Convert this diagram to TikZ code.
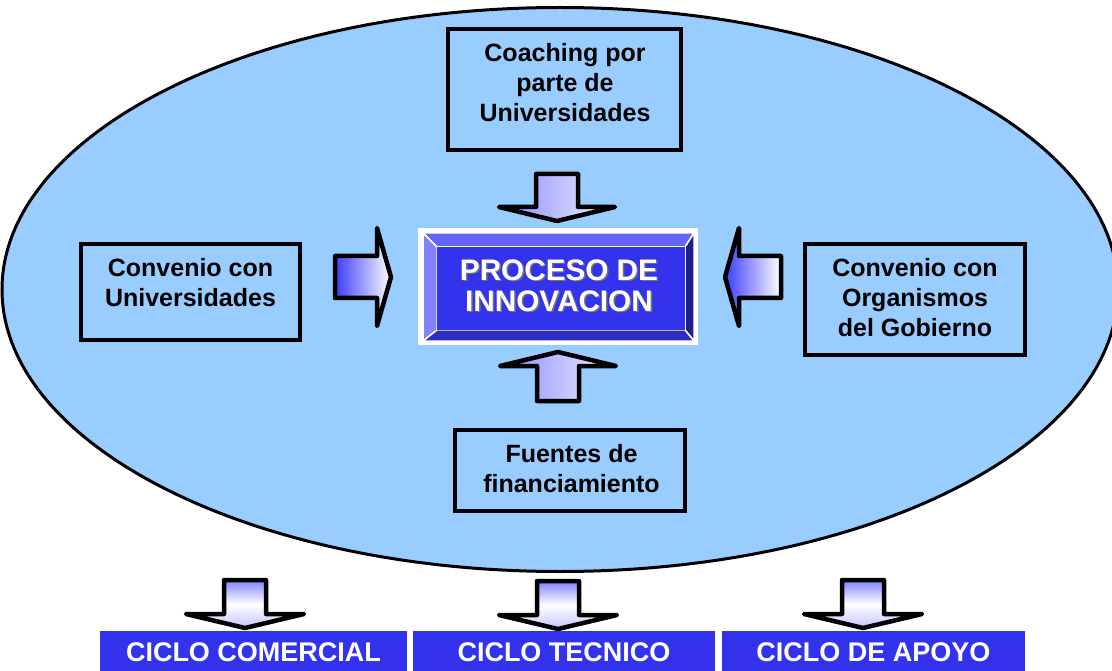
\documentclass[tikz,border=0pt]{standalone}
\usepackage{fontspec}
\setmainfont{Liberation Sans}
\usetikzlibrary{shapes.geometric}

\definecolor{ovalblue}{RGB}{153,204,255}
\definecolor{procblue}{RGB}{51,51,238}
\definecolor{bevtop}{RGB}{100,100,250}
\definecolor{bevleft}{RGB}{130,130,255}
\definecolor{bevright}{RGB}{30,30,140}
\definecolor{bevbottom}{RGB}{45,45,190}
\definecolor{arrowblue}{RGB}{60,60,255}

% block arrow: tip, turn, half head width, length, shading
\newcommand{\fatarrow}[5]{%
  \begin{scope}[shift={#1},rotate=#2]
    \draw[line width=4.5pt,line join=round,#5]
      (-21,-#4) -- (21,-#4) -- (21,-16) -- (#3,-16) -- (0,-2)
      -- (-#3,-16) -- (-21,-16) -- cycle;
  \end{scope}}

\begin{document}
\begin{tikzpicture}[x=1pt,y=-1pt]
    \tikzset{
        textbox/.style={draw=black,line width=4pt,fill=ovalblue,inner sep=0pt},
        boxtext/.style={align=center,font=\fontsize{25}{30}\selectfont\bfseries,inner sep=0pt},
        proctext/.style={align=center,font=\fontsize{29.7}{31}\selectfont\bfseries,inner sep=0pt},
        ciclobox/.style={fill=procblue,text=white,minimum height=42pt,inner sep=0pt,
            font=\fontsize{27}{32}\selectfont\bfseries},
        bevel/.style={draw=white,line width=1.5pt},
        sideshade/.style={left color=arrowblue,right color=white},
        midshade/.style={left color=arrowblue!60!white,right color=arrowblue!8!white},
        downshade/.style={top color=arrowblue!65!white,bottom color=arrowblue!30!white,middle color=white}
    }
    \useasboundingbox (0,0) rectangle (1112,671);

    \node[ellipse,draw=black,line width=3pt,fill=ovalblue,inner sep=0pt,
        minimum width=1116pt,minimum height=564pt] (oval) at (560,289.5) {};

    % the four sources
    \node[textbox,minimum width=233pt,minimum height=121pt] (coach) at (564.5,89.5) {};
    \node[boxtext] (coachtext) at (565,82.5) {Coaching por\\parte de\\Universidades};
    \node[textbox,minimum width=219pt,minimum height=96pt] (univ) at (190.5,292) {};
    \node[boxtext] (univtext) at (190.5,282.5) {Convenio con\\Universidades};
    \node[textbox,minimum width=220pt,minimum height=111pt] (gob) at (915,299.5) {};
    \node[boxtext] (gobtext) at (915,297.5) {Convenio con\\Organismos\\del Gobierno};
    \node[textbox,minimum width=230pt,minimum height=81pt] (fuentes) at (570,470.5) {};
    \node[boxtext] (fuentestext) at (571.5,469) {Fuentes de\\financiamiento};

    % bevelled centre box
    \node[fill=white,minimum width=280pt,minimum height=117pt,inner sep=0pt] (frame) at (558,286.5) {};
    \filldraw[bevel,fill=bevtop] (423,233) -- (694,233) -- (685,247) -- (437,247) -- cycle;
    \filldraw[bevel,fill=bevleft] (423,233) -- (437,247) -- (437,330) -- (423,341) -- cycle;
    \filldraw[bevel,fill=bevright] (694,233) -- (694,341) -- (685,330) -- (685,247) -- cycle;
    \filldraw[bevel,fill=bevbottom] (423,341) -- (694,341) -- (685,330) -- (437,330) -- cycle;
    \node[fill=procblue,minimum width=248pt,minimum height=83pt,inner sep=0pt] (proc) at (561,288.5) {};
    \node[proctext,text=black!55] (procshadow) at (560.5,287) {PROCESO DE\\INNOVACION};
    \node[proctext,text=white] (proclabel) at (559,285.5) {PROCESO DE\\INNOVACION};

    % arrows into the centre
    \fatarrow{(557,223)}{0}{58}{49}{midshade}
    \fatarrow{(393,277)}{90}{49}{58}{sideshade}
    \fatarrow{(723,277)}{-90}{49}{58}{sideshade}
    \fatarrow{(558,350)}{180}{58}{51}{midshade}

    % the three cycles
    \node[ciclobox,minimum width=307pt] (comercial) at (253.5,652) {CICLO COMERCIAL};
    \node[ciclobox,minimum width=302pt] (tecnico) at (564,652) {CICLO TECNICO};
    \node[ciclobox,minimum width=303pt] (apoyo) at (873.5,652) {CICLO DE APOYO};

    \fatarrow{(245,630)}{0}{59}{50}{downshade}
    \fatarrow{(558,631)}{0}{59}{50}{downshade}
    \fatarrow{(863,630)}{0}{59}{50}{downshade}
\end{tikzpicture}
\end{document}
